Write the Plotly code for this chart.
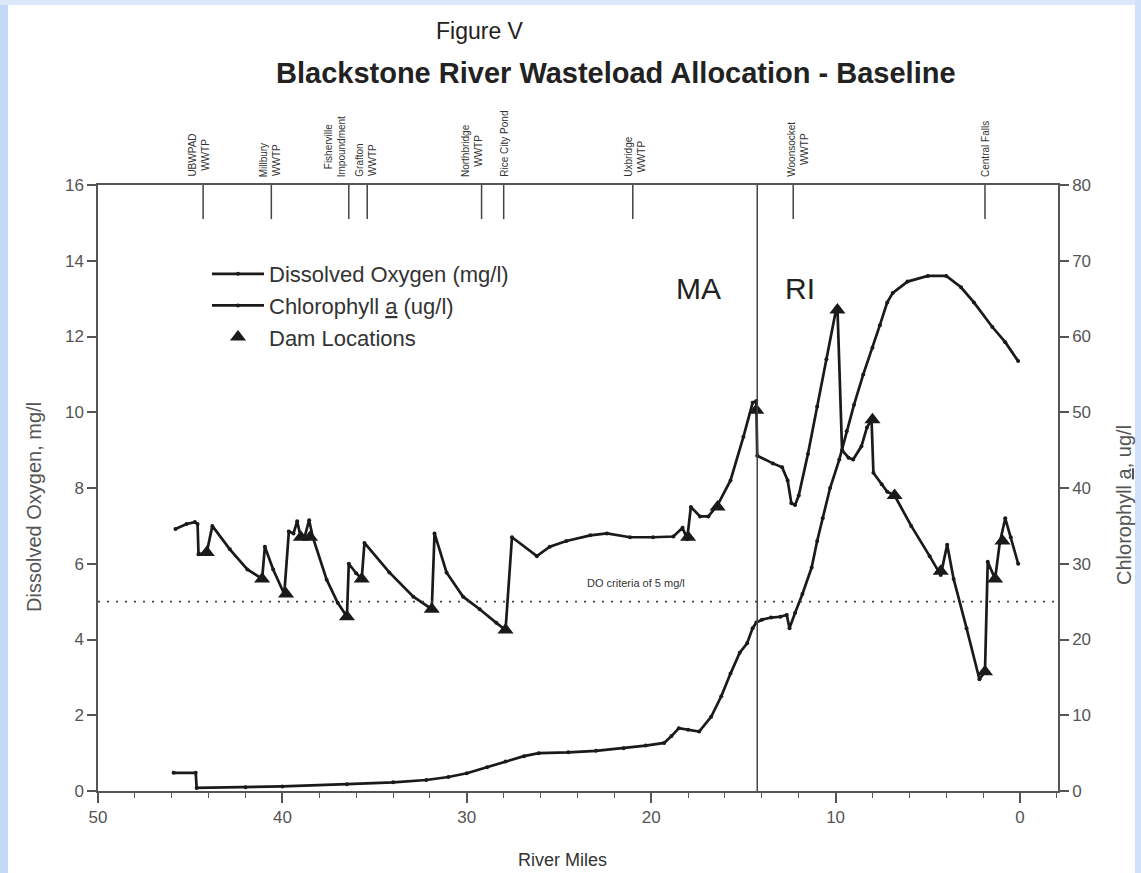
import plotly.graph_objects as go

# ---------------- data ----------------
do_miles = [45.8, 45.2, 44.75, 44.6, 44.55, 44.1, 43.8, 42.85, 41.9, 41.1, 40.95, 40.5, 39.9,
            39.65, 39.4, 39.2, 39.0, 38.8, 38.55, 38.35, 37.6, 37.0, 36.5, 36.4, 36.0, 35.7,
            35.55, 34.2, 32.9, 31.9, 31.75, 31.1, 30.2, 29.3, 28.4, 27.9, 27.55, 26.2, 25.5,
            24.6, 23.3, 22.4, 21.15, 19.9, 18.8, 18.3, 18.05, 17.85, 17.35, 16.9, 16.4, 15.7,
            15.0, 14.5, 14.3, 14.25, 13.4, 12.9, 12.6, 12.4, 12.2, 12.0, 11.5, 11.0, 10.5,
            10.0, 9.9, 9.65, 9.3, 9.05, 8.6, 8.3, 8.05, 7.95, 7.5, 7.2, 6.8, 5.9, 4.9, 4.3,
            3.95, 3.6, 2.9, 2.2, 1.9, 1.75, 1.35, 1.1, 0.8, 0.5, 0.1]
do_values = [6.92, 7.05, 7.1, 7.05, 6.25, 6.3, 7.0, 6.38, 5.85, 5.6, 6.45, 5.85, 5.2,
             6.85, 6.8, 7.12, 6.7, 6.7, 7.15, 6.7, 5.58, 4.97, 4.6, 6.0, 5.75, 5.6,
             6.55, 5.77, 5.13, 4.8, 6.8, 5.77, 5.13, 4.8, 4.44, 4.25, 6.7, 6.2, 6.45,
             6.6, 6.75, 6.8, 6.7, 6.7, 6.72, 6.95, 6.65, 7.5, 7.25, 7.25, 7.55, 8.2,
             9.35, 10.25, 10.3, 8.85, 8.65, 8.55, 8.2, 7.6, 7.55, 7.8, 8.9, 10.15, 11.4,
             12.65, 12.75, 9.0, 8.8, 8.75, 9.1, 9.6, 9.8, 8.4, 8.1, 7.9, 7.8, 7.0, 6.2, 5.7,
             6.5, 5.6, 4.3, 2.95, 3.15, 6.05, 5.6, 6.55, 7.2, 6.7, 6.0]

chl_miles = [45.9, 44.7, 44.65, 42.0, 40.0, 36.5, 34.0, 32.2, 31.0, 30.0, 28.9, 27.9, 26.9,
             26.1, 24.5, 23.0, 21.5, 20.3, 19.3, 18.9, 18.5, 18.0, 17.4, 16.75, 16.2, 15.7,
             15.2, 14.8, 14.5, 14.3, 14.0, 13.5, 13.0, 12.65, 12.5, 12.2, 11.8, 11.3, 11.0,
             10.7, 10.3, 9.8, 9.4, 9.0, 8.5, 8.0, 7.6, 7.2, 6.9, 6.1, 5.0, 4.0, 3.2, 2.5,
             1.5, 0.8, 0.1]
chl_values = [2.4, 2.4, 0.4, 0.5, 0.6, 0.9, 1.15, 1.45, 1.85, 2.35, 3.15, 3.9, 4.6,
              5.0, 5.1, 5.3, 5.65, 6.0, 6.35, 7.25, 8.3, 8.1, 7.85, 9.8, 12.5, 15.5,
              18.25, 19.5, 21.5, 22.25, 22.6, 22.9, 23.0, 23.25, 21.5, 23.5, 26.0, 29.5, 33.0,
              36.0, 40.0, 43.75, 47.5, 51.0, 55.0, 58.5, 61.5, 64.5, 65.75, 67.25, 68.0, 68.0,
              66.5, 64.5, 61.25, 59.25, 56.75]

dam_miles = [44.1, 41.1, 39.8, 39.0, 38.5, 36.5, 35.7, 31.9, 27.9, 18.0, 16.4, 14.3, 9.9,
             8.0, 6.8, 4.3, 1.9, 1.35, 0.95]
dam_do = [6.3, 5.6, 5.2, 6.7, 6.7, 4.6, 5.6, 4.8, 4.25, 6.7, 7.5, 10.05, 12.7,
          9.8, 7.8, 5.8, 3.15, 5.6, 6.6]

station_miles = [44.3, 40.6, 36.4, 35.4, 29.2, 28.0, 21.0, 12.3, 1.9]
station_labels = ["UBWPAD<br>WWTP", "Millbury<br>WWTP", "Fisherville<br>Impoundment",
                  "Grafton<br>WWTP", "Northbridge<br>WWTP", "Rice City Pond",
                  "Uxbridge<br>WWTP", "Woonsocket<br>WWTP", "Central Falls"]

state_line_mile = 14.25
do_criteria = 5.0

x_range = [50, -2.06]
do_range = [0, 16]
chl_range = [0, 80]

# ---------------- styling / layout ----------------
W, H = 1141, 873
L, R, T, B = 98, 83, 185, 82
PW, PH = W - L - R, H - T - B
label_xshift = [-5, -1, -14, -2, -10, 0, 2, 4, 0]


def px(xp):
    return (xp - L) / PW


def py(yp):
    return (H - B - yp) / PH


FONT = "Liberation Sans, Arial, sans-serif"
INK = "#1a1a1a"
GRAY = "#555555"

fig = go.Figure()

# station tick marks hanging from top axis
sx, sy = [], []
for m in station_miles:
    sx += [m, m, None]
    sy += [do_range[1], 15.1, None]
fig.add_trace(go.Scatter(x=sx, y=sy, mode="lines", line=dict(color="#444", width=1.5),
                         showlegend=False, hoverinfo="skip"))

fig.add_trace(go.Scatter(x=do_miles, y=do_values, mode="lines+markers",
                         name="Dissolved Oxygen (mg/l)", legendgroup="a",
                         line=dict(color=INK, width=2.7), marker=dict(size=4, color=INK)))
fig.add_trace(go.Scatter(x=chl_miles, y=chl_values, mode="lines+markers", yaxis="y2",
                         name="Chlorophyll <u>a</u> (ug/l)", legendgroup="b",
                         line=dict(color=INK, width=2.7), marker=dict(size=4, color=INK)))
fig.add_trace(go.Scatter(x=dam_miles, y=dam_do, mode="markers", name="Dam Locations",
                         legendgroup="c",
                         marker=dict(symbol="triangle-up", size=14, color=INK)))

axis_common = dict(showline=True, linecolor=GRAY, linewidth=1.5, ticks="outside",
                   tickcolor=GRAY, tickwidth=1.5, showgrid=False, zeroline=False,
                   tickfont=dict(size=17, color=GRAY, family=FONT))

fig.update_layout(
    width=W, height=H,
    margin=dict(l=L, r=R, t=T, b=B, pad=0),
    paper_bgcolor="white", plot_bgcolor="white",
    font=dict(family=FONT, color="#333"),
    xaxis=dict(range=x_range, tickvals=[50, 40, 30, 20, 10, 0], ticklen=10, mirror=True,
               minor=dict(dtick=2, ticks="outside", ticklen=5, tickcolor=GRAY, tickwidth=1.2),
               **axis_common),
    yaxis=dict(range=do_range, dtick=2, ticklen=9, **axis_common),
    yaxis2=dict(range=chl_range, dtick=10, ticklen=9, overlaying="y", side="right",
                **axis_common),
    legend=dict(x=px(207), y=py(253), xanchor="left", yanchor="top",
                bgcolor="rgba(0,0,0,0)", font=dict(size=22, color="#333"),
                tracegroupgap=0, itemwidth=52),
    showlegend=True,
)

# boundary line MA / RI
fig.add_shape(type="line", xref="x", yref="y", x0=state_line_mile, x1=state_line_mile,
              y0=do_range[0], y1=do_range[1], line=dict(color="#444", width=1.5))
# DO criteria line
fig.add_shape(type="line", xref="paper", yref="y", x0=0, x1=1, y0=do_criteria, y1=do_criteria,
              line=dict(color="#444", width=1.8, dash="2px,7px"))

# slide border strips
fig.add_shape(type="rect", xref="paper", yref="paper", x0=px(0), x1=px(8), y0=py(H), y1=py(0),
              fillcolor="#c3d8f6", line=dict(width=0), layer="below")
fig.add_shape(type="rect", xref="paper", yref="paper", x0=px(0), x1=px(W), y0=py(5), y1=py(0),
              fillcolor="#dce8fa", line=dict(width=0), layer="below")
fig.add_shape(type="rect", xref="paper", yref="paper", x0=px(1135), x1=px(W), y0=py(H), y1=py(0),
              fillcolor="#cfe0f8", line=dict(width=0), layer="below")


def note(text, xp, yp, size, color="#222", angle=0):
    return dict(text=text, x=px(xp), y=py(yp), xref="paper", yref="paper", showarrow=False,
                xanchor="center", yanchor="middle", textangle=angle,
                font=dict(size=size, color=color))


ann = [
    note("Figure V", 480, 31, 23),
    note("<b>Blackstone River Wasteload Allocation - Baseline</b>", 616, 73, 29),
    note("MA", 698, 288, 30),
    note("RI", 800, 288, 30),
    note("DO criteria of 5 mg/l", 636, 583, 11, "#333"),
    note("River Miles", 562, 860, 18, "#333"),
    note("Dissolved Oxygen, mg/l", 34, 507, 20, GRAY, -90),
    note("Chlorophyll <u>a</u>, ug/l", 1124, 505, 20, GRAY, -90),
]
for m, lab, dx in zip(station_miles, station_labels, label_xshift):
    ann.append(dict(text=lab, x=m, y=py(179), xref="x", yref="paper", showarrow=False,
                    textangle=-90, xanchor="center", yanchor="bottom", xshift=dx,
                    font=dict(size=10, color="#333")))
fig.update_layout(annotations=ann)

fig.write_html("out.html")
